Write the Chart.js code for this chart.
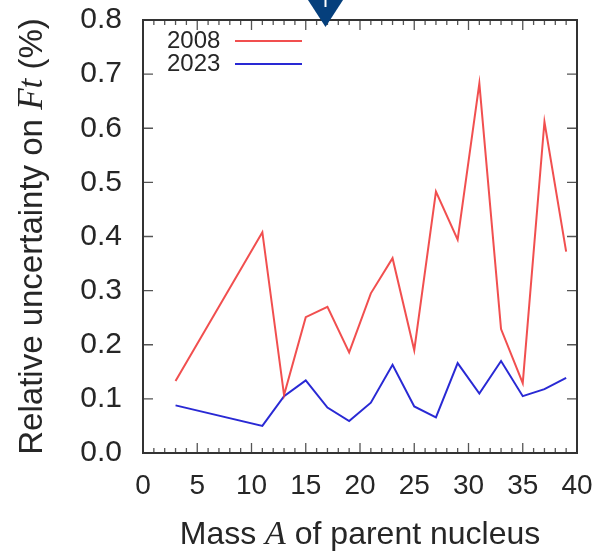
<!DOCTYPE html>
<html>
<head>
<meta charset="utf-8">
<script src="https://cdn.jsdelivr.net/npm/chart.js@4.4.0/dist/chart.umd.min.js"></script>
<style>
  html, body { margin: 0; padding: 0; background: #fff; }
  #wrap { position: relative; width: 599px; height: 552px; }
</style>
</head>
<body>
<div id="wrap"><canvas id="chart" width="599" height="552"></canvas></div>
<script>
// mass number A of the parent nucleus
const masses = [3, 11, 13, 15, 17, 19, 21, 23, 25, 27, 29, 31, 33, 35, 37, 39];
// relative uncertainty on Ft (%)
const unc2008 = [0.133, 0.408, 0.107, 0.251, 0.270, 0.186, 0.295, 0.360, 0.190, 0.483, 0.394, 0.683, 0.229, 0.129, 0.612, 0.372];
const unc2023 = [0.088, 0.050, 0.105, 0.134, 0.084, 0.059, 0.093, 0.163, 0.086, 0.066, 0.166, 0.110, 0.170, 0.105, 0.118, 0.139];
const seriesLabels = ['2008', '2023'];
const seriesColors = ['rgba(240,60,60,0.9)', 'rgba(30,30,210,0.95)'];

const xTitle = [['Mass ', false], ['A', true], [' of parent nucleus', false]];
const yTitle = [['Relative uncertainty on ', false], ['Ft', true], [' (%)', false]];

const sans = '"Liberation Sans", Arial, sans-serif';
const serif = '"Liberation Serif", "Times New Roman", serif';
const ink = '#262626';

function pts(ys) {
  return masses.map((a, i) => ({ x: a, y: ys[i] }));
}

// draw a title made of plain and italic pieces, centred on (cx, cy)
function mixedText(ctx, parts, cx, cy, size, angle) {
  ctx.save();
  ctx.translate(cx, cy);
  ctx.rotate(angle);
  ctx.fillStyle = ink;
  ctx.textBaseline = 'middle';
  ctx.textAlign = 'left';
  let total = 0;
  const widths = parts.map(p => {
    ctx.font = p[1] ? 'italic ' + (size + 2) + 'px ' + serif : size + 'px ' + sans;
    const w = ctx.measureText(p[0]).width;
    total += w;
    return w;
  });
  let x = -total / 2;
  parts.forEach((p, i) => {
    ctx.font = p[1] ? 'italic ' + (size + 2) + 'px ' + serif : size + 'px ' + sans;
    ctx.fillText(p[0], x, 0);
    x += widths[i];
  });
  ctx.restore();
}

const framePlugin = {
  id: 'frame',
  afterDraw(chart) {
    const { ctx, chartArea: a, scales } = chart;
    const xs = scales.x, ys = scales.y;
    ctx.save();
    ctx.strokeStyle = '#555';
    ctx.lineWidth = 1.3;
    // inward ticks, bottom and top: major every 5, minor every 1
    for (let v = xs.min; v <= xs.max; v += 1) {
      const px = xs.getPixelForValue(v);
      const len = v % 5 === 0 ? 10 : 5;
      ctx.beginPath();
      ctx.moveTo(px, a.bottom); ctx.lineTo(px, a.bottom - len);
      ctx.moveTo(px, a.top); ctx.lineTo(px, a.top + len);
      ctx.stroke();
    }
    ys.ticks.forEach(t => {
      const py = ys.getPixelForValue(t.value);
      ctx.beginPath();
      ctx.moveTo(a.left, py); ctx.lineTo(a.left + 10, py);
      ctx.moveTo(a.right, py); ctx.lineTo(a.right - 10, py);
      ctx.stroke();
    });
    ctx.strokeStyle = '#333';
    ctx.lineWidth = 2;
    ctx.strokeRect(a.left, a.top, a.right - a.left, a.bottom - a.top);

    // legend inside the plot: label then line sample
    ctx.font = '24px ' + sans;
    ctx.textBaseline = 'middle';
    ctx.textAlign = 'left';
    chart.data.datasets.forEach((ds, i) => {
      const y = a.top + 21 + i * 23;
      ctx.fillStyle = ink;
      ctx.fillText(ds.label, a.left + 24, y);
      ctx.strokeStyle = ds.borderColor;
      ctx.lineWidth = 2;
      ctx.beginPath();
      ctx.moveTo(a.left + 92, y); ctx.lineTo(a.left + 159, y);
      ctx.stroke();
    });

    // axis titles
    mixedText(ctx, xTitle, (a.left + a.right) / 2, 535, 32, 0);
    mixedText(ctx, yTitle, 33, (a.top + a.bottom) / 2, 33, -Math.PI / 2);

    // navy marker cut off at the top of the picture
    ctx.fillStyle = '#053f7c';
    ctx.beginPath();
    ctx.moveTo(308, 0); ctx.lineTo(343, 0); ctx.lineTo(325.5, 27);
    ctx.closePath();
    ctx.fill();
    ctx.strokeStyle = '#fff';
    ctx.lineWidth = 2;
    ctx.beginPath();
    ctx.moveTo(325.5, 0); ctx.lineTo(325.5, 7);
    ctx.stroke();
    ctx.restore();
  }
};

const data = {
  datasets: seriesLabels.map((lab, i) => ({
    label: lab,
    data: pts(i === 0 ? unc2008 : unc2023),
    borderColor: seriesColors[i],
    backgroundColor: seriesColors[i],
    borderWidth: 2,
    pointRadius: 0,
    showLine: true,
    tension: 0
  }))
};

const config = {
  type: 'scatter',
  data: data,
  options: {
    responsive: false,
    animation: false,
    layout: { padding: { left: 0, right: 22, top: 20, bottom: 0 } },
    plugins: { legend: { display: false }, tooltip: { enabled: false } },
    scales: {
      x: {
        type: 'linear',
        min: 0, max: 40,
        grid: { display: false },
        border: { display: false },
        ticks: { stepSize: 5, color: ink, padding: 8, font: { family: sans, size: 28 } },
        afterFit: s => { s.height = 99; s.paddingLeft = 0; s.paddingRight = 0; }
      },
      y: {
        min: 0, max: 0.8,
        grid: { display: false },
        border: { display: false },
        ticks: {
          stepSize: 0.1, color: ink, padding: 13, font: { family: sans, size: 30 },
          callback: v => v.toFixed(1)
        },
        afterFit: s => { s.width = 143; s.paddingTop = 0; s.paddingBottom = 0; }
      }
    }
  },
  plugins: [framePlugin]
};

const ctx = document.getElementById('chart').getContext('2d');
const myChart = new Chart(ctx, config);
</script>
</body>
</html>
